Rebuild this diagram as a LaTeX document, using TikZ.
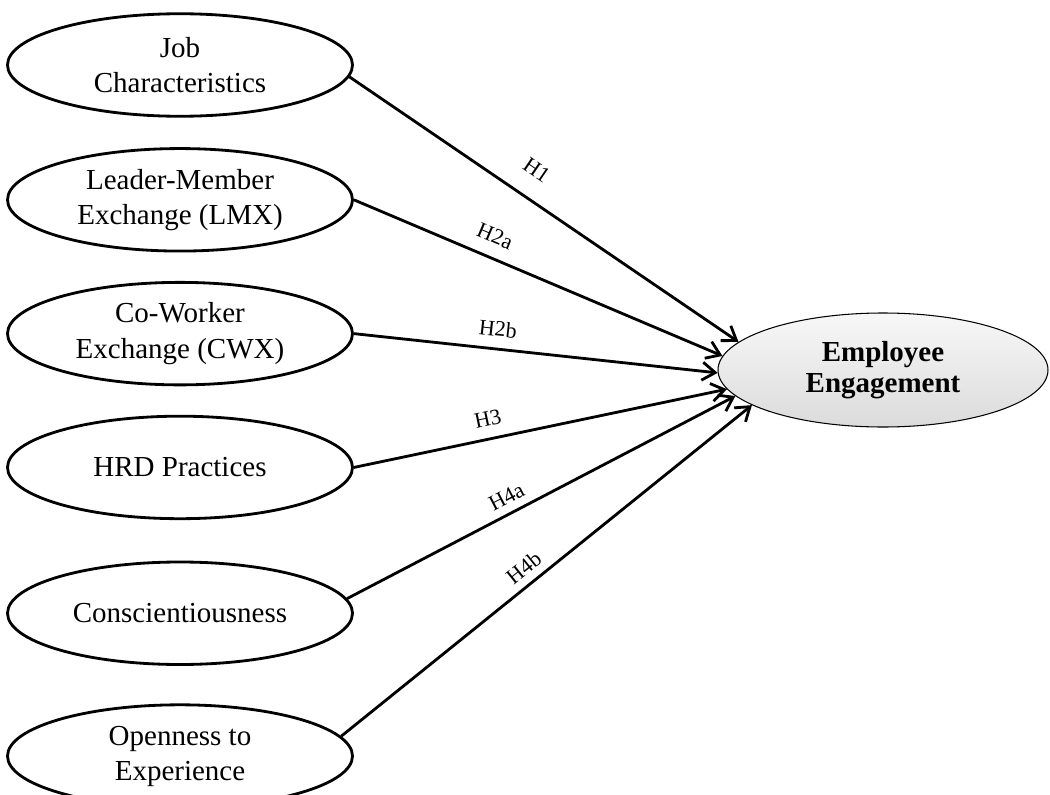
\documentclass[tikz,border=0pt]{standalone}
\usepackage{fontspec}
\setmainfont{Liberation Serif}
\usetikzlibrary{arrows.meta, positioning, shapes.geometric}

\begin{document}
\begin{tikzpicture}[
    node distance=0.6cm,
    construct/.style={ellipse, draw, line width=1.6pt, minimum width=6.9cm, minimum height=2.05cm, inner sep=0pt, align=center, font=\fontsize{16.5}{20}\selectfont},
    outcome/.style={ellipse, draw, line width=0.6pt, top color=gray!6, bottom color=gray!28, minimum width=6.6cm, minimum height=2.28cm, inner sep=0pt, align=center, font=\fontsize{16.5}{18}\selectfont\bfseries},
    arrow/.style={-{Straight Barb[length=2.6mm, width=3.6mm]}, line width=1.6pt},
    hyp/.style={font=\fontsize{12.5}{14}\selectfont, sloped, above}
]

\useasboundingbox (0,0) rectangle (21,-15.9);

% Predictors (left column)
\node[construct] (job) at (3.6,-1.3) {Job\\Characteristics};
\node[construct, below=0.59cm of job] (lmx) {Leader-Member\\Exchange (LMX)};
\node[construct, below=0.57cm of lmx] (cwx) {Co-Worker\\Exchange (CWX)};
\node[construct, below=0.57cm of cwx] (hrd) {HRD Practices};
\node[construct, below=0.81cm of hrd] (consc) {Conscientiousness};
\node[construct, below=0.75cm of consc] (open) {Openness to\\Experience};

% Outcome
\node[outcome] (eng) at (17.66,-7.4) {Employee\\Engagement};

% Hypothesised paths
\draw[arrow] (job.-4) -- node[hyp, pos=0.44, above=8pt] {H1} (eng.169);
\draw[arrow] (lmx.east) -- node[hyp, pos=0.36, above=4pt] {H2a} (eng.175);
\draw[arrow] (cwx.east) -- node[hyp, pos=0.39, above=3pt] {H2b} (eng.181);
\draw[arrow] (hrd.east) -- node[hyp, pos=0.37, above=3pt] {H3} (eng.187);
\draw[arrow] (consc.5) -- node[hyp, pos=0.43, above=1pt] {H4a} (eng.190.5);
\draw[arrow] (open.7) -- node[hyp, pos=0.47, above=1pt] {H4b} (eng.195);

\end{tikzpicture}
\end{document}
